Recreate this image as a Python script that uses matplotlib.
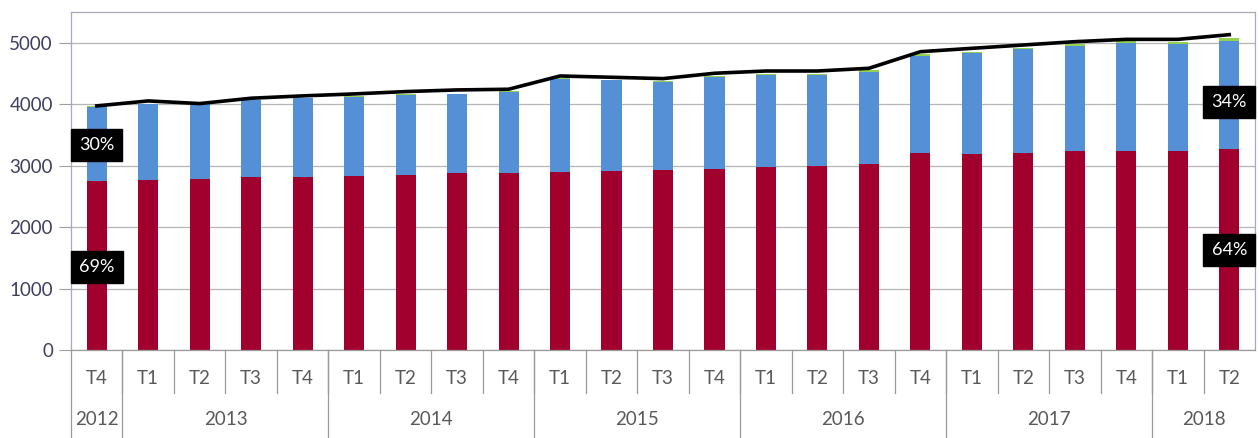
import numpy as np
import matplotlib
matplotlib.use("Agg")
import matplotlib.pyplot as plt

# données
quarters = ["T4",
            "T1", "T2", "T3", "T4",
            "T1", "T2", "T3", "T4",
            "T1", "T2", "T3", "T4",
            "T1", "T2", "T3", "T4",
            "T1", "T2", "T3", "T4",
            "T1", "T2"]
years = ["2012", "2013", "2014", "2015", "2016", "2017", "2018"]
year_counts = [1, 4, 4, 4, 4, 4, 2]

red = [2743, 2766, 2782, 2808, 2808, 2825, 2841, 2873, 2880, 2890, 2906, 2928,
       2945, 2977, 2993, 3026, 3204, 3188, 3204, 3231, 3231, 3231, 3269]
blue = [1218, 1239, 1223, 1262, 1289, 1299, 1315, 1294, 1325, 1521, 1483, 1439,
        1498, 1499, 1477, 1503, 1580, 1639, 1688, 1720, 1759, 1748, 1754]
green = [3, 3, 3, 4, 4, 5, 5, 6, 6, 10, 10, 12,
         14, 16, 18, 25, 25, 25, 28, 30, 30, 30, 60]
total = [3972, 4053, 4010, 4097, 4135, 4167, 4205, 4232, 4243, 4459, 4438, 4416,
         4503, 4540, 4540, 4584, 4854, 4909, 4963, 5017, 5055, 5055, 5131]

# étiquettes en pourcentage (index, valeur y, texte)
pct_labels = [(0, 3330, "30%"), (0, 1350, "69%"),
              (22, 4030, "34%"), (22, 1630, "64%")]

plt.rcParams['font.family'] = ['Lato', 'DejaVu Sans']

fig = plt.figure(figsize=(12.59, 4.38), dpi=100)
W, H = 1259, 438
ax = fig.add_axes([71 / W, (H - 350) / H, (1255 - 71) / W, (350 - 12) / H])

x = np.arange(len(quarters))
bw = 0.39
red_c = "#A1002F"
blue_c = "#5590D6"
green_c = "#92D050"

ax.bar(x, red, bw, color=red_c, zorder=2)
ax.bar(x, blue, bw, bottom=red, color=blue_c, zorder=2)
ax.bar(x, green, bw, bottom=np.array(red) + np.array(blue), color=green_c, zorder=2)
ax.plot(x, total, color="black", lw=2.6, zorder=3)

for i, yv, txt in pct_labels:
    ax.text(x[i], yv, txt, ha="center", va="center", color="white", fontsize=13,
            zorder=4, bbox=dict(boxstyle="square,pad=0.45", fc="black", ec="black"))

ax.set_xlim(-0.5, len(quarters) - 0.5)
ax.set_ylim(0, 5500)
ax.set_yticks(range(0, 6000, 1000))
ax.tick_params(axis="y", labelsize=13.5, labelcolor="#3E3E5E", color="#A0A0A0",
               length=9, width=0.8, pad=4)
ax.set_xticks([])
ax.grid(axis="y", color="#B5B5B5", lw=0.9, zorder=0)
for s in ax.spines.values():
    s.set_color("#A8A8B8")
    s.set_linewidth(0.9)
ax.spines["bottom"].set_color("#9A9A9A")

# axe des catégories à deux niveaux
trans = ax.get_xaxis_transform()
sep_c = "#9A9A9A"
for i, q in enumerate(quarters):
    ax.text(x[i], -0.085, q, transform=trans, ha="center", va="center",
            fontsize=13.5, color="#595959")
for b in range(1, len(quarters)):
    ax.plot([b - 0.5, b - 0.5], [0, -0.127], transform=trans, color=sep_c,
            lw=0.9, clip_on=False)
start = 0
for yr, n in zip(years, year_counts):
    end = start + n
    ax.text((start + end - 1) / 2, -0.207, yr, transform=trans, ha="center",
            va="center", fontsize=13.5, color="#595959")
    if end < len(quarters):
        ax.plot([end - 0.5, end - 0.5], [0, -0.26], transform=trans, color=sep_c,
                lw=0.9, clip_on=False)
    start = end
ax.plot([-0.5, -0.5], [0, -0.26], transform=trans, color=sep_c, lw=0.9, clip_on=False)

fig.savefig("out.png", dpi=100)
